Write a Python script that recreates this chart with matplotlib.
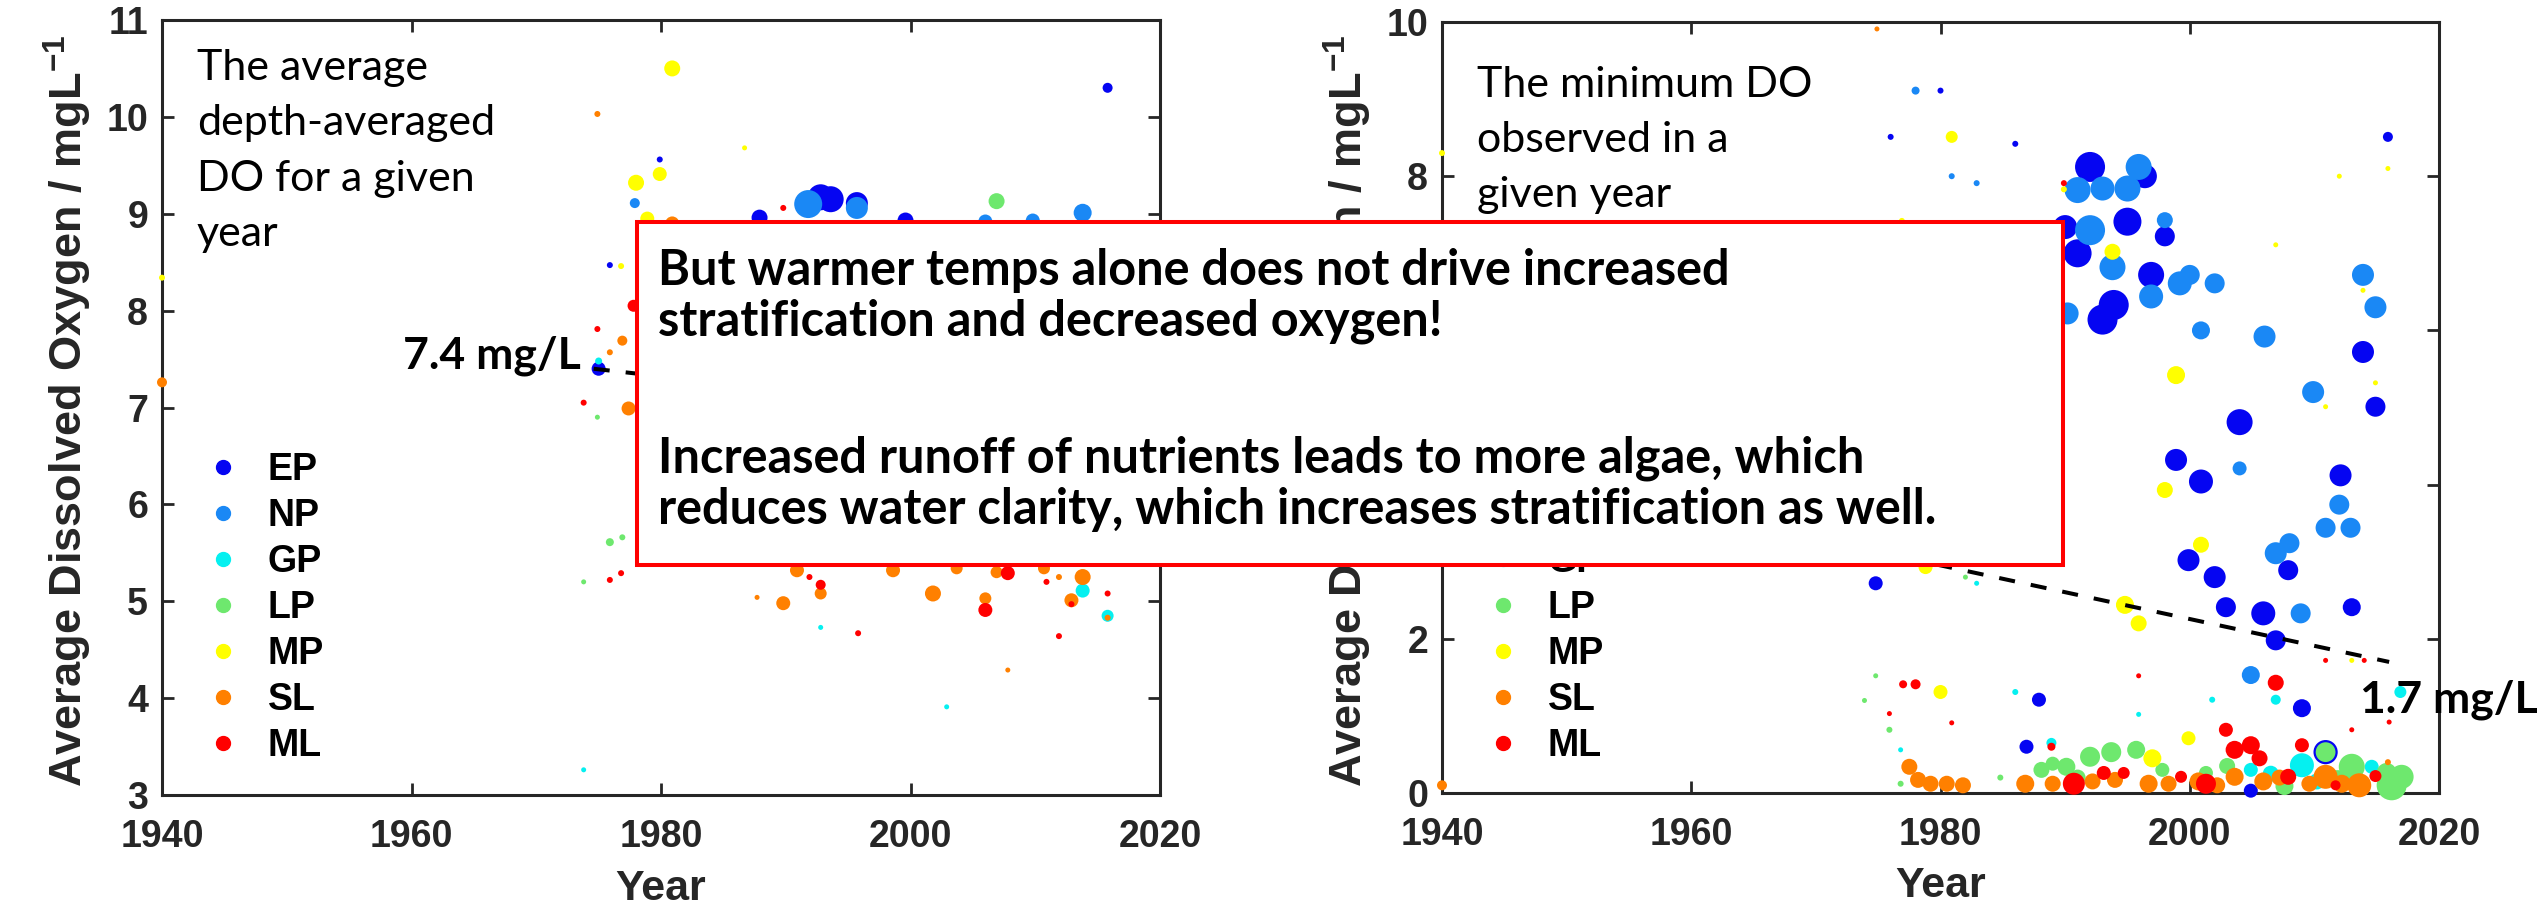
import matplotlib
matplotlib.use('Agg')
import matplotlib.pyplot as plt
from matplotlib.lines import Line2D
from matplotlib.patches import Rectangle

plt.rcParams['font.family'] = ['Liberation Sans', 'DejaVu Sans']
plt.rcParams['font.weight'] = 'bold'
plt.rcParams['axes.labelweight'] = 'bold'
plt.rcParams['mathtext.fontset'] = 'custom'
plt.rcParams['mathtext.rm'] = 'Liberation Sans:bold'
plt.rcParams['mathtext.bf'] = 'Liberation Sans:bold'

# sites, in plotting / legend order
sites = ['EP', 'NP', 'GP', 'LP', 'MP', 'SL', 'ML']
site_colors = ['#0505f2', '#1a88f5', '#05f0f0', '#6ee86e', '#ffff00', '#ff8000', '#ff0000']

# each entry: (year, dissolved oxygen mg/L, dot diameter px ~ sample weight)
avg_EP = [(1975.0, 7.40, 14), (1979.9, 9.56, 6), (1975.9, 8.47, 6), (1992.8, 9.17, 26),
          (1993.6, 9.15, 26), (1995.7, 9.11, 22), (1987.9, 8.96, 16), (1999.6, 8.93, 16),
          (2015.8, 10.30, 10)]
avg_NP = [(1977.9, 9.11, 10), (1991.8, 9.10, 28), (1995.7, 9.06, 22), (2009.8, 8.93, 14),
          (2013.8, 9.01, 18), (2006.0, 8.92, 14)]
avg_GP = [(1975.0, 7.48, 7), (1973.8, 3.26, 5), (1992.8, 4.73, 5), (2002.9, 3.91, 5),
          (2013.8, 5.11, 14), (2015.8, 4.85, 12)]
avg_LP = [(1974.9, 6.90, 5), (1975.9, 5.61, 8), (1976.9, 5.66, 6), (1973.8, 5.20, 5),
          (2006.9, 9.13, 16)]
avg_MP = [(1980.9, 10.50, 16), (1978.0, 9.32, 16), (1979.9, 9.41, 14), (1986.7, 9.68, 5),
          (1976.8, 8.46, 6), (1940.0, 8.34, 6), (1978.9, 8.95, 14)]
avg_SL = [(1974.9, 10.03, 6), (1940.0, 7.26, 10), (1976.9, 7.69, 10), (1975.9, 7.57, 6),
          (1977.4, 6.99, 14), (1980.9, 8.90, 14), (1987.7, 5.04, 5), (1989.8, 4.98, 14),
          (1990.9, 5.32, 14), (1992.8, 5.08, 12), (1998.6, 5.32, 14), (2001.8, 5.08, 16),
          (2003.7, 5.34, 12), (2006.0, 5.03, 12), (2006.9, 5.30, 12), (2007.8, 4.29, 5),
          (2010.7, 5.34, 12), (2011.9, 5.25, 6), (2012.9, 5.01, 14), (2013.8, 5.25, 16),
          (2015.8, 4.83, 6)]
avg_ML = [(1977.8, 8.05, 12), (1974.9, 7.81, 6), (1973.8, 7.05, 6), (1975.9, 5.22, 6),
          (1976.8, 5.29, 6), (1991.9, 5.25, 6), (1992.8, 5.17, 10), (1995.8, 4.67, 6),
          (2006.0, 4.91, 14), (2007.8, 5.29, 14), (2010.9, 5.20, 6), (2011.9, 4.64, 6),
          (2012.9, 4.97, 6), (2015.8, 5.08, 6), (1989.8, 9.06, 6)]

min_EP = [(1980.0, 9.11, 6), (1976.0, 8.51, 6), (1986.0, 8.42, 6), (1992.0, 8.12, 30),
          (1996.4, 8.00, 24), (1995.0, 7.41, 28), (1990.0, 7.34, 24), (1991.0, 7.00, 28),
          (1998.0, 7.22, 20), (1996.9, 6.72, 26), (1993.9, 6.33, 30), (1993.0, 6.14, 30),
          (2015.9, 8.51, 10), (2013.9, 5.72, 22), (2014.9, 5.01, 20), (2004.0, 4.81, 26),
          (1998.9, 4.32, 22), (2000.9, 4.04, 24), (2012.1, 4.12, 22), (1999.9, 3.02, 22),
          (2002.0, 2.80, 22), (2007.9, 2.89, 20), (1974.8, 2.72, 14), (2002.9, 2.41, 20),
          (2005.9, 2.33, 24), (2013.0, 2.41, 18), (2006.9, 1.98, 20), (1987.9, 1.21, 14),
          (2009.0, 1.10, 18), (1986.9, 0.60, 14), (2004.9, 0.03, 14)]
min_NP = [(1978.0, 9.11, 8), (1980.9, 8.00, 6), (1982.9, 7.91, 6), (1991.0, 7.82, 26),
          (1993.0, 7.84, 24), (1995.0, 7.84, 26), (1995.9, 8.12, 26), (1992.0, 7.30, 30),
          (1993.8, 6.82, 26), (1998.0, 7.43, 16), (1999.2, 6.61, 24), (2000.0, 6.72, 20),
          (2002.0, 6.61, 20), (1996.9, 6.44, 24), (1990.2, 6.22, 22), (2000.9, 6.00, 18),
          (2006.0, 5.92, 22), (2013.9, 6.72, 22), (2014.9, 6.30, 22), (2009.9, 5.20, 22),
          (2004.0, 4.21, 14), (2012.0, 3.74, 20), (2010.9, 3.44, 20), (2012.9, 3.44, 20),
          (2006.9, 3.11, 22), (2008.0, 3.24, 20), (2008.9, 2.33, 20), (2004.9, 1.53, 18)]
min_GP = [(1982.9, 2.72, 5), (1986.0, 1.31, 6), (2001.8, 1.21, 6), (2006.9, 1.21, 10),
          (1995.9, 1.02, 5), (1988.9, 0.65, 10), (2016.9, 1.31, 12), (1976.8, 0.56, 5),
          (2004.9, 0.30, 14), (2009.0, 0.36, 24), (2014.6, 0.34, 14), (2006.5, 0.25, 16),
          (2012.0, 0.20, 14), (2010.2, 0.15, 16)]
min_LP = [(1982.0, 2.80, 5), (1974.8, 1.52, 5), (1973.9, 1.20, 5), (1975.9, 0.82, 6),
          (1976.8, 0.12, 6), (1984.8, 0.20, 6), (1988.1, 0.30, 16), (1989.0, 0.38, 14),
          (1990.1, 0.34, 18), (1992.0, 0.47, 20), (1993.7, 0.53, 20), (1995.7, 0.56, 18),
          (2001.3, 0.26, 14), (2007.6, 0.09, 18), (2013.0, 0.34, 26), (2016.2, 0.10, 30),
          (2017.0, 0.21, 24), (2015.8, 0.26, 20), (1991.0, 0.20, 16), (1997.8, 0.30, 14),
          (2003.0, 0.35, 16), (2011.8, 0.18, 18), (2010.9, 0.53, 22)]
min_MP = [(1940.0, 8.30, 6), (1980.9, 8.51, 12), (1976.9, 7.42, 6), (1989.9, 7.83, 6),
          (1993.8, 7.02, 16), (2006.9, 7.11, 5), (2012.0, 8.00, 5), (2015.9, 8.10, 5),
          (2013.9, 6.52, 5), (1998.9, 5.42, 18), (2014.9, 5.32, 5), (2010.9, 5.01, 5),
          (1998.0, 3.93, 16), (2000.9, 3.22, 16), (1978.8, 2.93, 14), (1994.8, 2.44, 18),
          (1995.9, 2.20, 16), (2013.0, 1.72, 5), (1980.0, 1.31, 14), (1999.9, 0.71, 14),
          (1997.0, 0.45, 18)]
min_SL = [(1940.0, 0.10, 10), (1974.9, 9.91, 5), (1977.5, 0.34, 16), (1978.2, 0.17, 16),
          (1979.2, 0.12, 16), (1980.5, 0.12, 16), (1981.8, 0.10, 16), (1986.8, 0.12, 18),
          (1989.0, 0.12, 16), (1994.0, 0.17, 16), (1996.7, 0.12, 18), (1998.3, 0.12, 16),
          (2000.7, 0.15, 18), (2003.6, 0.21, 18), (2005.9, 0.15, 18), (2009.6, 0.12, 16),
          (2010.9, 0.21, 24), (2013.6, 0.10, 24), (2015.9, 0.40, 6), (1992.2, 0.15, 16),
          (2002.2, 0.10, 16), (2007.2, 0.20, 16), (2012.2, 0.12, 18)]
min_ML = [(1989.9, 7.91, 6), (2010.9, 1.72, 5), (2014.0, 1.72, 5), (1977.0, 1.41, 8),
          (1978.0, 1.41, 10), (1995.9, 1.52, 5), (2006.9, 1.43, 16), (1975.9, 1.03, 5),
          (1980.9, 0.91, 5), (2016.0, 0.92, 5), (2013.0, 0.82, 5), (2002.9, 0.82, 14),
          (1988.9, 0.60, 8), (2009.0, 0.62, 14), (1990.7, 0.12, 22), (1993.1, 0.26, 14),
          (1994.7, 0.26, 12), (1999.3, 0.21, 12), (2001.3, 0.12, 20), (2003.6, 0.56, 18),
          (2004.9, 0.62, 18), (2005.6, 0.45, 16), (2007.9, 0.21, 16), (2011.7, 0.10, 10),
          (2014.9, 0.22, 12)]
# EP year drawn as an open ring in the minimum panel
min_EP_open = [(2010.9, 0.53, 22)]

avg_series = [avg_EP, avg_NP, avg_GP, avg_LP, avg_MP, avg_SL, avg_ML]
min_series = [min_EP, min_NP, min_GP, min_LP, min_MP, min_SL, min_ML]

# fitted trend lines (start, end)
avg_trend_year = [1974.6, 2016.0]
avg_trend_do = [7.4, 6.8]
min_trend_year = [1974.6, 2016.0]
min_trend_do = [3.14, 1.7]

ink = '#262626'
W, H = 2542, 910
fig = plt.figure(figsize=(W / 100, H / 100), dpi=100)
fig.patch.set_facecolor('white')

ax1 = fig.add_axes([162 / W, (H - 795) / H, 998 / W, 775 / H])
ax2 = fig.add_axes([1442 / W, (H - 793) / H, 997 / W, 771 / H])


def dot_area(d):
    # diameter in pixels -> scatter area in points^2
    return (d * 0.72) ** 2


def draw_panel(ax, series, ylim, yticks, note, note_y, trend_x, trend_y):
    for name, color, pts in zip(sites, site_colors, series):
        ax.scatter([p[0] for p in pts], [p[1] for p in pts],
                   s=[dot_area(p[2]) for p in pts], c=color,
                   linewidths=0, zorder=3, clip_on=False)
    ax.plot(trend_x, trend_y, color='black', lw=2.9, dashes=(4, 4), zorder=4)

    ax.set_xlim(1940, 2020)
    ax.set_ylim(*ylim)
    ax.set_xticks([1940, 1960, 1980, 2000, 2020])
    ax.set_yticks(yticks)
    for sp in ax.spines.values():
        sp.set_linewidth(2.2)
        sp.set_color(ink)
    ax.tick_params(direction='in', length=8.5, width=2, color=ink,
                   top=True, right=True, labelsize=27, labelcolor=ink)
    ax.tick_params(axis='x', pad=17)
    ax.tick_params(axis='y', pad=10)

    ax.set_xlabel('Year', fontsize=31, fontweight='bold', color=ink)
    ax.xaxis.set_label_coords(0.5, -0.095)
    ax.set_ylabel(r'Average Dissolved Oxygen / mgL$^{\mathbf{-1}}$', fontsize=32.5,
                  fontweight='bold', color=ink)
    ax.yaxis.set_label_coords(-0.068, 0.4955)

    handles = [Line2D([], [], ls='none', marker='o', ms=10, mfc=c, mec=c)
               for c in site_colors]
    ax.legend(handles, sites, loc='upper left', bbox_to_anchor=(0.042, 0.443),
              frameon=False, borderpad=0, borderaxespad=0, handlelength=1.0,
              handletextpad=0.7, labelspacing=0.27,
              prop=dict(family='Liberation Sans', weight='bold', size=27))

    ax.text(0.035, note_y, note, transform=ax.transAxes, ha='left', va='top',
            family='Lato', fontweight='normal', fontsize=31, linespacing=1.55,
            color='black', zorder=5)


draw_panel(ax1, avg_series, (3, 11), range(3, 12),
           'The average\ndepth-averaged\nDO for a given\nyear', 0.962,
           avg_trend_year, avg_trend_do)
draw_panel(ax2, min_series, (0, 10), range(0, 11, 2),
           'The minimum DO\nobserved in a\ngiven year', 0.943,
           min_trend_year, min_trend_do)

ax2.scatter([p[0] for p in min_EP_open], [p[1] for p in min_EP_open],
            s=[dot_area(p[2]) for p in min_EP_open], facecolors='none',
            edgecolors=site_colors[0], linewidths=1.6, zorder=3, clip_on=False)

ax1.annotate(f'{avg_trend_do[0]} mg/L', xy=(avg_trend_year[0], avg_trend_do[0]),
             xytext=(-9, 9), textcoords='offset points', ha='right', va='center',
             family='Lato', fontweight='bold', fontsize=32, color='black', zorder=6)
ax2.annotate(f'{min_trend_do[1]} mg/L', xy=(min_trend_year[1], min_trend_do[1]),
             xytext=(-21, -27), textcoords='offset points', ha='left', va='center',
             family='Lato', fontweight='bold', fontsize=32, color='black',
             annotation_clip=False, zorder=6)

# call-out box laid over both panels
box = Rectangle((637 / W, (H - 565) / H), 1426 / W, 343 / H, transform=fig.transFigure,
                facecolor='white', edgecolor='#ff0000', linewidth=2.9, zorder=10)
fig.add_artist(box)
fig.text(658 / W, 0.7275,
         'But warmer temps alone does not drive increased\nstratification and decreased oxygen!',
         ha='left', va='top', family='Lato', fontweight='bold', fontsize=35,
         linespacing=1.16, color='black', zorder=11)
fig.text(658 / W, 0.521,
         'Increased runoff of nutrients leads to more algae, which\n'
         'reduces water clarity, which increases stratification as well.',
         ha='left', va='top', family='Lato', fontweight='bold', fontsize=35,
         linespacing=1.16, color='black', zorder=11)

fig.savefig('out.png', dpi=100, facecolor='white')
